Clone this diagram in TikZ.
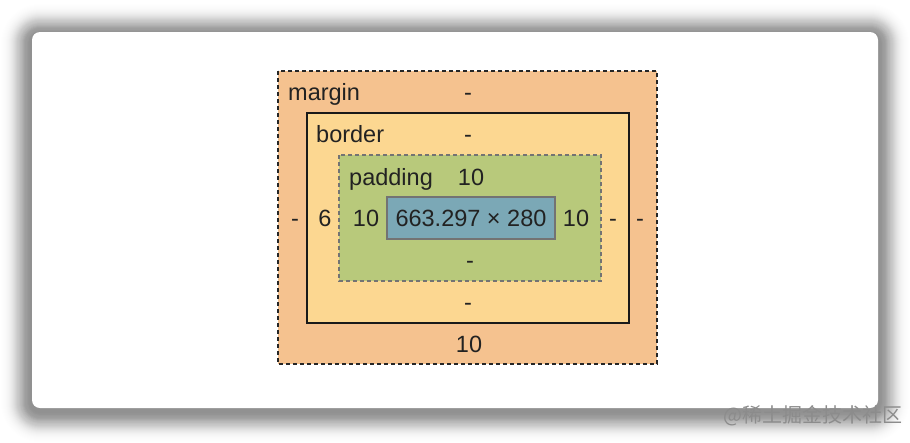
\documentclass[tikz,border=0pt]{standalone}
\usepackage{fontspec}
\setmainfont{Liberation Sans}
\newfontfamily\cjk{Noto Sans CJK SC}
\definecolor{marginfill}{HTML}{F5C28F}
\definecolor{borderfill}{HTML}{FCD791}
\definecolor{paddingfill}{HTML}{B8C97B}
\definecolor{contentfill}{HTML}{7BA8B6}
\definecolor{textdark}{HTML}{222222}

\begin{document}
\begin{tikzpicture}[x=1pt, y=-1pt,
	lbl/.style={anchor=base, inner sep=0pt, text=textdark, font=\fontsize{23.5}{28}\selectfont},
	dashbox/.style={line width=1.6pt, dash pattern=on 4pt off 3pt}]
	\useasboundingbox (0,0) rectangle (910,442);

	\foreach \i [evaluate=\i as \r using 8+\i, evaluate=\i as \a using 1.1*\i/225*exp(-(\i/15)^2)] in {1,...,40}
		\fill[black, opacity=\a, rounded corners=\r pt] (32-\i, 35-\i) rectangle (878+\i, 411+\i);
	\fill[white, rounded corners=8pt] (32,32) rectangle (878,408);

	\filldraw[fill=marginfill, draw=black!85, dashbox] (278,71) rectangle (657,364);
	\filldraw[fill=borderfill, draw=black!90, line width=2pt] (307,113) rectangle (629,323);
	\filldraw[fill=paddingfill, draw=black!55, dashbox] (339,155) rectangle (601,281);
	\filldraw[fill=contentfill, draw=black!55, line width=1.5pt] (387,197) rectangle (555,239);

	\node[lbl, anchor=base west] (margin) at (288,100) {margin};
	\node[lbl] (mtop) at (468,100) {-};
	\node[lbl, anchor=base west] (border) at (316,142) {border};
	\node[lbl] (btop) at (468,142) {-};
	\node[lbl, anchor=base west] (padding) at (349,185) {padding};
	\node[lbl] (ptop) at (471,185) {10};

	\node[lbl] (mleft) at (295,226) {-};
	\node[lbl] (bleft) at (325,226) {6};
	\node[lbl] (pleft) at (366,226) {10};
	\node[lbl] (content) at (471,226) {663.297 × 280};
	\node[lbl] (pright) at (576,226) {10};
	\node[lbl] (bright) at (613,226) {-};
	\node[lbl] (mright) at (640,226) {-};

	\node[lbl] (pbottom) at (470,268) {-};
	\node[lbl] (bbottom) at (468,310) {-};
	\node[lbl] (mbottom) at (469,352) {10};

	\node[font=\cjk\fontsize{20}{22}\selectfont, text=black!45] (mark) at (813,416) {@稀土掘金技术社区};
\end{tikzpicture}
\end{document}
